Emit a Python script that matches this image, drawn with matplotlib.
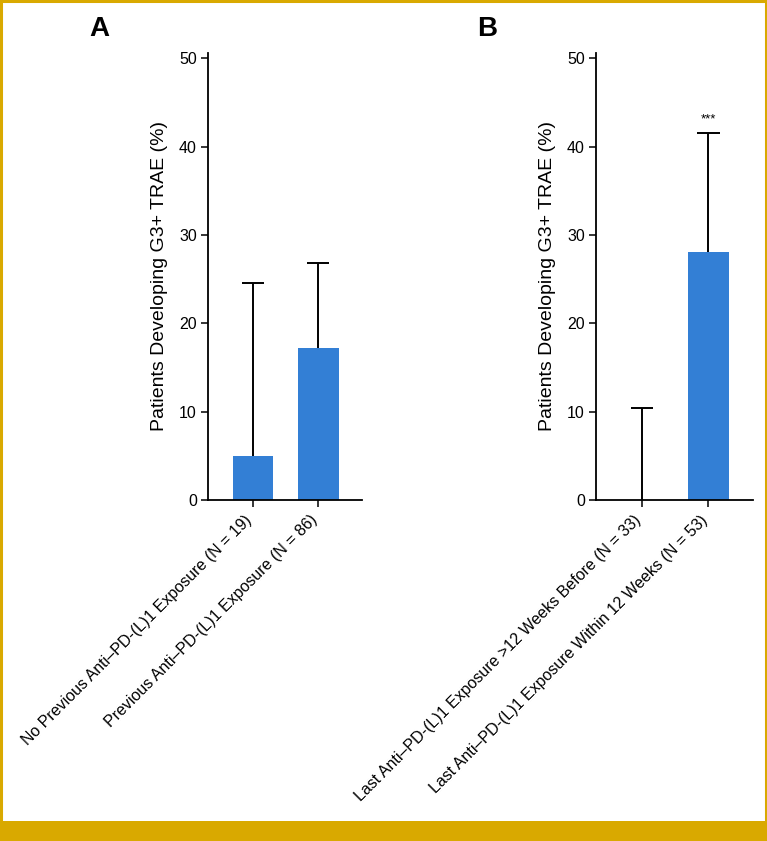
import matplotlib
matplotlib.use('Agg')
import matplotlib.pyplot as plt
import numpy as np

# values
labels_a = ['No Previous Anti\u2013PD-(L)1 Exposure (N = 19)',
            'Previous Anti\u2013PD-(L)1 Exposure (N = 86)']
pct_a = [5.0, 17.2]
upper_a = [24.6, 26.8]

labels_b = ['Last Anti\u2013PD-(L)1 Exposure >12 Weeks Before (N = 33)',
            'Last Anti\u2013PD-(L)1 Exposure Within 12 Weeks (N = 53)']
pct_b = [0.0, 28.1]
upper_b = [10.4, 41.5]
stars_b = ['', '***']

yticks = [0, 10, 20, 30, 40, 50]

BLUE = '#337fd5'
GOLD = '#d9a900'

plt.rcParams['font.family'] = ['Liberation Sans', 'DejaVu Sans']


def draw_panel(fig, rect, labels, pct, upper, letter, letter_x, stars=None):
    ax = fig.add_axes(rect)
    x = np.arange(len(pct))
    ax.bar(x, pct, width=0.62, color=BLUE, zorder=2)
    # upper-only error bars with a cap at the top only
    ax.vlines(x, pct, upper, color='black', linewidth=1.4, zorder=3)
    ax.hlines(upper, x - 0.17, x + 0.17, color='black', linewidth=1.4, zorder=3)
    if stars:
        for xi, s, u in zip(x, stars, upper):
            if s:
                ax.text(xi, u + 1.6, s, ha='center', va='center', fontsize=9.5)
    ax.set_xlim(-0.69, 1.67)
    ax.set_ylim(0, 50.6)
    ax.set_yticks(yticks)
    ax.set_xticks(x)
    ax.set_xticklabels(labels, rotation=45, ha='right', va='baseline',
                       rotation_mode='anchor', fontsize=11.3)
    ax.tick_params(axis='both', direction='out', length=5, width=1.1,
                   labelsize=11.5, pad=3)
    ax.tick_params(axis='x', pad=10)
    ax.spines['top'].set_visible(False)
    ax.spines['right'].set_visible(False)
    ax.spines['left'].set_linewidth(1.3)
    ax.spines['bottom'].set_linewidth(1.3)
    ax.set_ylabel('Patients Developing G3+ TRAE (%)', fontsize=14, labelpad=8)
    fig.text(letter_x, 0.965, letter, fontsize=20, fontweight='bold',
             ha='center', va='center')
    return ax


def main():
    fig = plt.figure(figsize=(7.67, 8.41), dpi=100)

    draw_panel(fig, [0.2712, 0.4055, 0.2008, 0.5315], labels_a, pct_a, upper_a,
               'A', 0.130)
    draw_panel(fig, [0.7770, 0.4055, 0.2047, 0.5315], labels_b, pct_b, upper_b,
               'B', 0.635, stars=stars_b)

    # gold frame and footer bar
    frame = plt.Rectangle((0.001, 0.0), 0.998, 0.999, transform=fig.transFigure,
                          fill=False, edgecolor=GOLD, linewidth=2.2)
    fig.patches.append(frame)
    footer = plt.Rectangle((0, 0), 1, 20 / 841, transform=fig.transFigure,
                           facecolor=GOLD, edgecolor='none')
    fig.patches.append(footer)

    fig.savefig('out.png', dpi=100)


if __name__ == '__main__':
    main()
